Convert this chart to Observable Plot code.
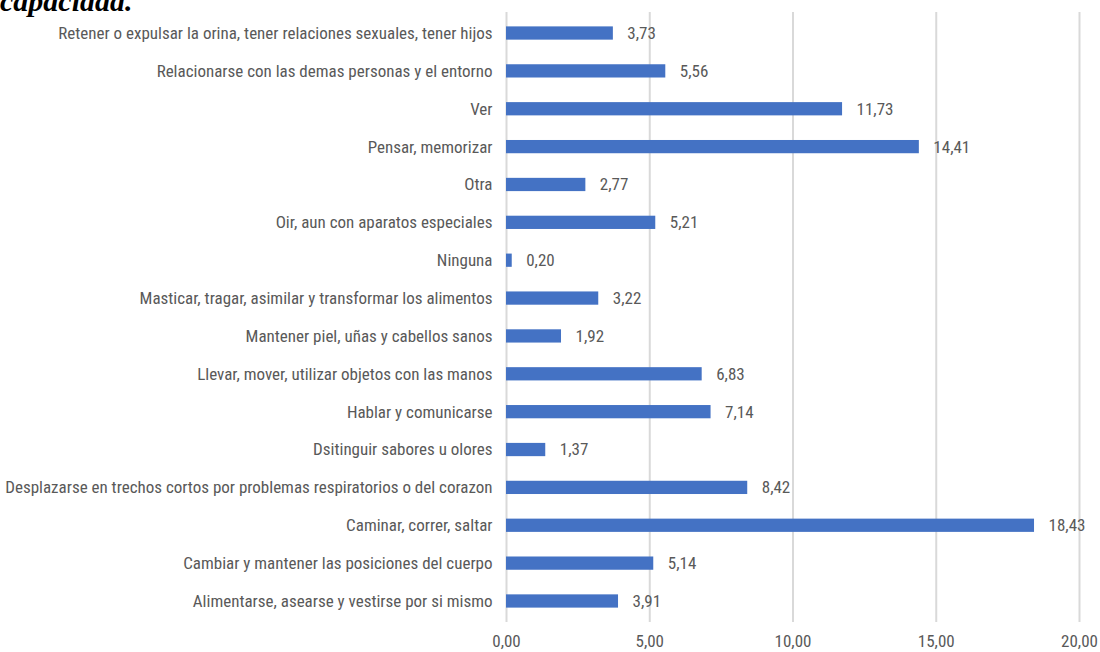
<!DOCTYPE html>
<html>
<head>
<meta charset="utf-8">
<script src="https://cdn.jsdelivr.net/npm/d3@7"></script>
<script src="https://cdn.jsdelivr.net/npm/@observablehq/plot@0.6"></script>
<style>
  html, body { margin: 0; padding: 0; background: #fff; overflow: hidden; }
  #wrap { position: relative; width: 1100px; height: 652px; }
  #title { position: absolute; left: 0; top: -16px; font-family: "Liberation Serif", "DejaVu Serif", serif; font-style: italic; font-weight: bold; font-size: 30px; color: #000; white-space: nowrap; }
  #chart { position: absolute; left: 0; top: 0; }
</style>
</head>
<body>
<div id="wrap">
  <div id="title">capacidad.</div>
  <div id="chart"></div>
</div>
<script>
const categories = [
  "Retener o expulsar la orina, tener relaciones sexuales, tener hijos",
  "Relacionarse con las demas personas y el entorno",
  "Ver",
  "Pensar, memorizar",
  "Otra",
  "Oir, aun con aparatos especiales",
  "Ninguna",
  "Masticar, tragar, asimilar y transformar los alimentos",
  "Mantener piel, uñas y cabellos sanos",
  "Llevar, mover, utilizar objetos con las manos",
  "Hablar y comunicarse",
  "Dsitinguir sabores u olores",
  "Desplazarse en trechos cortos por problemas respiratorios o del corazon",
  "Caminar, correr, saltar",
  "Cambiar y mantener las posiciones del cuerpo",
  "Alimentarse, asearse y vestirse por si mismo"
];
const values = [3.73, 5.56, 11.73, 14.41, 2.77, 5.21, 0.20, 3.22, 1.92, 6.83, 7.14, 1.37, 8.42, 18.43, 5.14, 3.91];
const xTicks = [0, 5, 10, 15, 20];

const data = categories.map((c, i) => ({category: c, value: values[i]}));
const fmt = v => v.toFixed(2).replace(".", ",");
const font = "'Liberation Sans Narrow', 'Arial Narrow', 'Roboto Condensed', sans-serif";

const chart = Plot.plot({
  width: 1100,
  height: 652,
  marginLeft: 506,
  marginRight: 21,
  marginTop: 12,
  marginBottom: 30,
  style: {fontFamily: font, fontSize: "17px", color: "#595959", background: "transparent"},
  x: {domain: [0, 20], ticks: xTicks, tickFormat: fmt, label: null},
  y: {domain: categories, label: null, paddingInner: 0.65, paddingOuter: 0.38, round: false},
  marks: [
    Plot.ruleX(xTicks, {stroke: "#d9d9d9", strokeWidth: 2}),
    Plot.axisX({ticks: xTicks, tickFormat: fmt, tickSize: 0, tickPadding: 12, fontSize: 17, fill: "#595959"}),
    Plot.axisY({tickSize: 0, tickPadding: 14, fontSize: 17, fill: "#595959"}),
    Plot.barX(data, {x: "value", y: "category", fill: "#4472c4"}),
    Plot.text(data, {x: "value", y: "category", text: d => fmt(d.value), textAnchor: "start", dx: 14, fill: "#595959", fontSize: 17})
  ]
});
document.getElementById("chart").appendChild(chart);
</script>
</body>
</html>
